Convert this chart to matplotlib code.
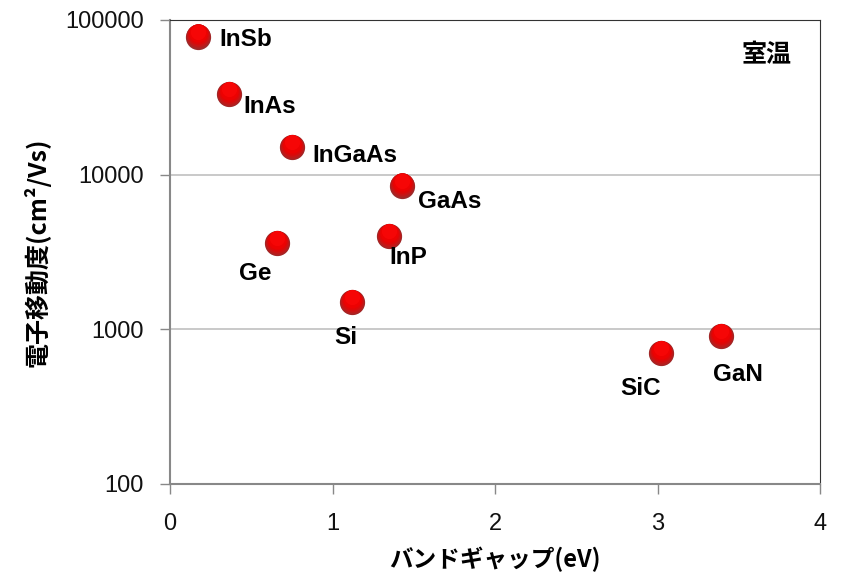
import numpy as np
import matplotlib
matplotlib.use('Agg')
import matplotlib.pyplot as plt
from matplotlib.transforms import offset_copy

plt.rcParams['font.family'] = ['Liberation Sans', 'Noto Sans CJK JP', 'DejaVu Sans']

# data: band gap (eV) and electron mobility (cm2/Vs)
names = ['InSb', 'InAs', 'InGaAs', 'GaAs', 'Ge', 'InP', 'Si', 'SiC', 'GaN']
bandgap = [0.17, 0.36, 0.75, 1.43, 0.66, 1.35, 1.12, 3.02, 3.39]
mobility = [78000, 33000, 15000, 8500, 3600, 4000, 1500, 700, 900]

# label offsets in pixels (text anchor relative to marker centre)
label_off = {'InSb': (22, -3, 'left'), 'InAs': (15, -12, 'left'), 'InGaAs': (21, -8, 'left'),
             'GaAs': (16, -16, 'left'), 'Ge': (-22, -30, 'center'), 'InP': (0, -21, 'left'),
             'Si': (-6, -35, 'center'), 'SiC': (-20, -35, 'center'), 'GaN': (17, -38, 'center')}

yticks = [100, 1000, 10000, 100000]
xticks = [0, 1, 2, 3, 4]

fig = plt.figure(figsize=(8.41, 5.78), dpi=100)
ax = fig.add_axes([170/841, 1 - 484/578, 650/841, 464/578])

ax.set_yscale('log')
ax.set_xlim(0, 4)
ax.set_ylim(100, 100000)

for y in yticks[1:]:
    ax.axhline(y, color='#c0c0c0', lw=1.2, zorder=1)

# shaded sphere look: stack circles from dark (bottom) to bright (top)
sizes = [330, 300, 260, 215, 170, 120]
colors = ['#9a2c2c', '#b02020', '#c81414', '#dc0808', '#ec0202', '#f60606']
r0 = np.sqrt(sizes[0]) / 2 * 100 / 72
for s, c in zip(sizes, colors):
    dy = (r0 - np.sqrt(s) / 2 * 100 / 72) * 1.0
    tr = offset_copy(ax.transData, fig=fig, x=0, y=dy, units='dots')
    ax.scatter(bandgap, mobility, s=s, color=c, lw=0, transform=tr, zorder=3)

for n, x, y in zip(names, bandgap, mobility):
    dx, dy, ha = label_off[n]
    ax.annotate(n, (x, y), xytext=(dx, dy), textcoords='offset pixels',
                ha=ha, va='center', fontsize=17.5, fontweight='bold', zorder=4)

ax.text(0.917, 0.925, '室温', transform=ax.transAxes, ha='center', va='center',
        fontsize=18, fontweight='bold', family=['Noto Sans CJK JP'])

ax.set_xticks(xticks)
ax.set_xticklabels([str(v) for v in xticks])
ax.set_yticks(yticks)
ax.set_yticklabels([str(v) for v in yticks])
ax.minorticks_off()
ax.tick_params(axis='x', length=7, width=1, color='#888888', labelsize=17, pad=14, labelcolor='#111111')
ax.tick_params(axis='y', length=7, width=1, color='#888888', labelsize=17, pad=12, labelcolor='#111111')

for side in ['left', 'bottom']:
    ax.spines[side].set_color('#888888')
    ax.spines[side].set_linewidth(1.5)
for side in ['top', 'right']:
    ax.spines[side].set_color('#333333')
    ax.spines[side].set_linewidth(0.8)

ax.set_xlabel('バンドギャップ(eV)', fontsize=17, fontweight='bold', labelpad=8,
              family=['Noto Sans CJK JP'])
ax.set_ylabel('電子移動度(cm²/Vs)', fontsize=18, fontweight='bold', labelpad=10,
              family=['Noto Sans CJK JP'])

fig.savefig('out.png', dpi=100)
